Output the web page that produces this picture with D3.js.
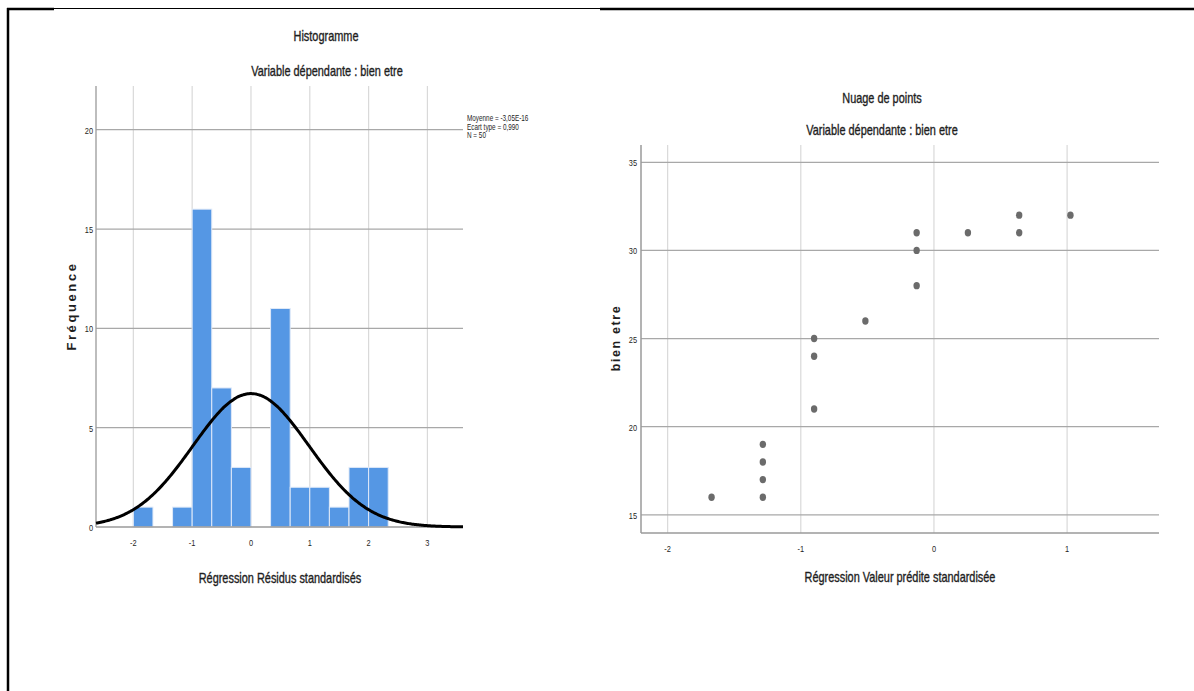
<!DOCTYPE html>
<html><head><meta charset="utf-8">
<script src="https://cdn.jsdelivr.net/npm/d3@7"></script>
<style>
body{margin:0;background:#fff;}
svg{display:block;}
text{font-family:"Liberation Sans Narrow","Arial Narrow","Liberation Sans",Arial,sans-serif;fill:#1e1e1e;}
</style></head><body>
<script>
// ---- Histogram data ----
const binStarts = [-2, -1.6667, -1.3333, -1, -0.6667, -0.3333, 0, 0.3333, 0.6667, 1, 1.3333, 1.6667, 2];
const binCounts = [1, 0, 1, 16, 7, 3, 0, 11, 2, 2, 1, 3, 3];
const binWidth = 1/3;
const histXTicks = [-2, -1, 0, 1, 2, 3];
const histYTicks = [0, 5, 10, 15, 20];
const statMean = -3.05e-16, statSd = 0.990, statN = 50;
const legendLines = ["Moyenne = -3,05E-16", "Ecart type = 0,990", "N = 50"];

// ---- Scatter data ----
const scatterX = [-1.67, -1.285, -1.285, -1.285, -1.285, -0.90, -0.90, -0.90, -0.515, -0.13, -0.13, -0.13, 0.255, 0.64, 0.64, 1.025];
const scatterY = [16, 16, 17, 18, 19, 21, 24, 25, 26, 28, 30, 31, 31, 31, 32, 32];
const scatXTicks = [-2, -1, 0, 1];
const scatYTicks = [15, 20, 25, 30, 35];

const W = 1194, H = 691;
const svg = d3.select("body").append("svg").attr("width", W).attr("height", H);

// condensed label helper
function label(g, x, y, txt, size, anchor, sxf, heavy) {
  const t = g.append("g").attr("transform", `translate(${x},${y}) scale(${sxf},1)`)
    .append("text").attr("text-anchor", anchor).attr("font-size", size).text(txt);
  if (heavy) t.attr("stroke", "#1e1e1e").attr("stroke-width", heavy);
  return t;
}

// Frame
svg.append("line").attr("x1",8).attr("x2",8).attr("y1",8).attr("y2",H).attr("stroke","#000").attr("stroke-width",2.5);
svg.append("line").attr("x1",7).attr("x2",54).attr("y1",9).attr("y2",9).attr("stroke","#000").attr("stroke-width",2.5);
svg.append("line").attr("x1",54).attr("x2",600).attr("y1",8.5).attr("y2",8.5).attr("stroke","#000").attr("stroke-width",1.2);
svg.append("line").attr("x1",600).attr("x2",W).attr("y1",9).attr("y2",9).attr("stroke","#000").attr("stroke-width",2.5);

// ================= Histogram =================
const hx = d3.scaleLinear().domain([-2.635, 3.605]).range([96, 463]);
const hy = d3.scaleLinear().domain([0, 22.2]).range([527, 86]);
const hg = svg.append("g");

hg.selectAll(".vg").data(histXTicks).join("line")
  .attr("x1", d=>hx(d)).attr("x2", d=>hx(d)).attr("y1", hy(22.2)).attr("y2", hy(0))
  .attr("stroke","#d9d9d9").attr("stroke-width",1.2);
hg.selectAll(".hg").data(histYTicks.filter(d=>d>0)).join("line")
  .attr("x1", hx.range()[0]).attr("x2", hx.range()[1]).attr("y1", d=>hy(d)).attr("y2", d=>hy(d))
  .attr("stroke","#a8a8a8").attr("stroke-width",1.3);

hg.selectAll(".bar").data(binStarts.map((s,i)=>({s, c: binCounts[i]})).filter(d=>d.c>0)).join("rect")
  .attr("x", d=>hx(d.s)).attr("width", d=>hx(d.s+binWidth)-hx(d.s))
  .attr("y", d=>hy(d.c)).attr("height", d=>hy(0)-hy(d.c))
  .attr("fill","#5597e4").attr("stroke","#dfe9f8").attr("stroke-width",1);

hg.append("line").attr("x1",hx.range()[0]).attr("x2",hx.range()[0]).attr("y1",hy(22.2)).attr("y2",hy(0)).attr("stroke","#9a9a9a").attr("stroke-width",1.3);
hg.append("line").attr("x1",hx.range()[0]).attr("x2",hx.range()[1]).attr("y1",hy(0)).attr("y2",hy(0)).attr("stroke","#9a9a9a").attr("stroke-width",1.3);

// normal curve from the stated parameters
const peak = statN*binWidth;
const curveX = d3.range(-2.635, 3.606, 0.02);
const curve = d3.line().x(d=>hx(d)).y(d=>hy(peak/(statSd*Math.sqrt(2*Math.PI))*Math.exp(-0.5*Math.pow((d-statMean)/statSd,2)))).curve(d3.curveBasis);
hg.append("path").datum(curveX).attr("d", curve).attr("fill","none").attr("stroke","#000").attr("stroke-width",3);

histXTicks.forEach(d => label(hg, hx(d), 546, d, 9.5, "middle", 0.78));
histYTicks.forEach(d => label(hg, 93, hy(d)+4, d, 9.5, "end", 0.78));

label(hg, 326, 41, "Histogramme", 14, "middle", 0.78, 0.35);
label(hg, 327, 76, "Variable dépendante : bien etre", 14, "middle", 0.78, 0.35);
label(hg, 280, 583, "Régression Résidus standardisés", 14, "middle", 0.78, 0.35);
hg.append("text").attr("transform","translate(76,306) rotate(-90)").attr("text-anchor","middle")
  .attr("font-family","Liberation Sans, Arial, sans-serif").attr("font-weight","bold").attr("font-size",13).attr("letter-spacing",2.6).text("Fréquence");

legendLines.forEach((d,i) => label(hg, 467, 121+i*8.5, d, 8.5, "start", 0.75));

// ================= Scatter =================
const sx = d3.scaleLinear().domain([-2.2, 1.69]).range([641, 1159]);
const sy = d3.scaleLinear().domain([13.97, 35.98]).range([533, 145]);
const sg = svg.append("g");

sg.selectAll(".vg").data(scatXTicks).join("line")
  .attr("x1", d=>sx(d)).attr("x2", d=>sx(d)).attr("y1", sy.range()[1]).attr("y2", sy.range()[0])
  .attr("stroke","#d9d9d9").attr("stroke-width",1.2);
sg.selectAll(".hg").data(scatYTicks).join("line")
  .attr("x1", sx.range()[0]).attr("x2", sx.range()[1]).attr("y1", d=>sy(d)).attr("y2", d=>sy(d))
  .attr("stroke","#a8a8a8").attr("stroke-width",1.3);
sg.append("line").attr("x1",sx.range()[0]).attr("x2",sx.range()[0]).attr("y1",sy.range()[1]).attr("y2",sy.range()[0]).attr("stroke","#9a9a9a").attr("stroke-width",1.5);
sg.append("line").attr("x1",sx.range()[0]).attr("x2",sx.range()[1]).attr("y1",sy.range()[0]).attr("y2",sy.range()[0]).attr("stroke","#9a9a9a").attr("stroke-width",1.5);

sg.selectAll(".pt").data(scatterX.map((x,i)=>({x, y: scatterY[i]}))).join("ellipse")
  .attr("cx", d=>sx(d.x)).attr("cy", d=>sy(d.y)).attr("rx",3.2).attr("ry",3.7)
  .attr("fill","#6b6b6b");

scatXTicks.forEach(d => label(sg, sx(d), 552, d, 9.5, "middle", 0.78));
scatYTicks.forEach(d => label(sg, 637, sy(d)+4, d, 9.5, "end", 0.78));

label(sg, 882, 103, "Nuage de points", 14, "middle", 0.78, 0.35);
label(sg, 882, 135, "Variable dépendante : bien etre", 14, "middle", 0.78, 0.35);
label(sg, 900, 582, "Régression Valeur prédite standardisée", 14, "middle", 0.78, 0.35);
sg.append("text").attr("transform","translate(620,338) rotate(-90)").attr("text-anchor","middle")
  .attr("font-family","Liberation Sans, Arial, sans-serif").attr("font-weight","bold").attr("font-size",12.5).attr("letter-spacing",1.6).text("bien etre");
</script>
</body></html>
